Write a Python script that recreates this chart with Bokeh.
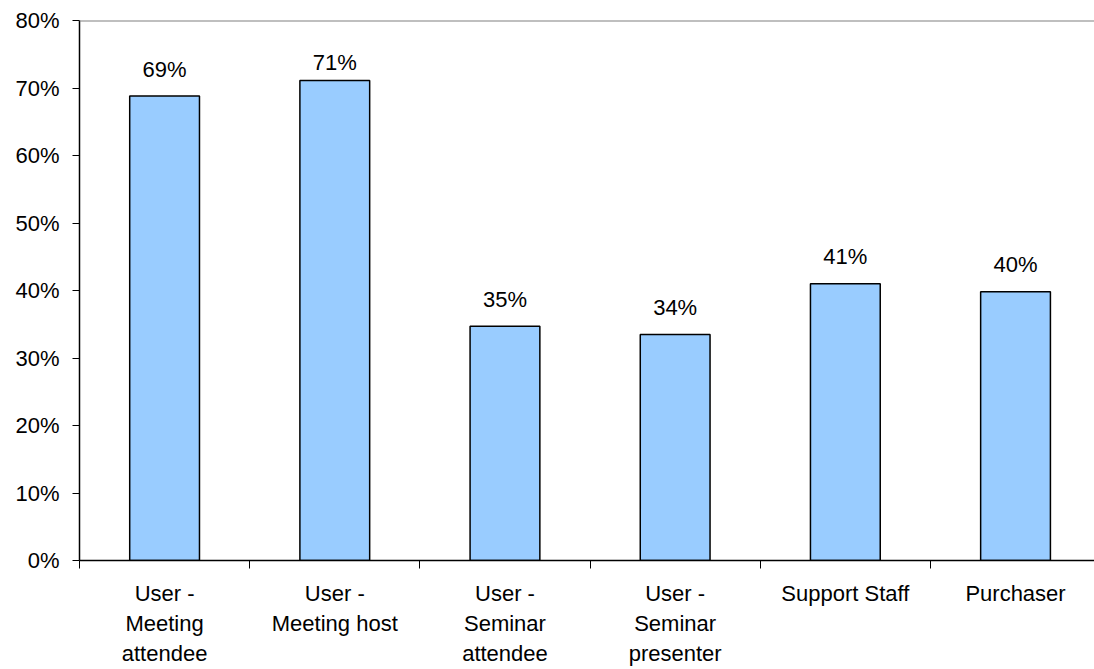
from bokeh.plotting import figure
from bokeh.models import ColumnDataSource, FixedTicker, Range1d, Span
from bokeh.core.properties import value
from bokeh.embed import file_html
from bokeh.resources import INLINE

categories = ["User -\nMeeting\nattendee", "User -\nMeeting host", "User -\nSeminar\nattendee",
              "User -\nSeminar\npresenter", "Support Staff", "Purchaser"]
values = [68.8, 71.1, 34.7, 33.5, 41.0, 39.8]
labels = ["69%", "71%", "35%", "34%", "41%", "40%"]
y_ticks = [0, 10, 20, 30, 40, 50, 60, 70, 80]

FONT = "Liberation Sans"
FS = "22px"
xs = [i + 0.5 for i in range(len(categories))]
label_y = [min(v + 4.0, 73.8) for v in values]

src = ColumnDataSource(dict(x=xs, top=values, ly=label_y, lab=labels))

p = figure(width=1094, height=669, output_backend="svg", toolbar_location=None,
           x_range=Range1d(0, 5.964), y_range=Range1d(0, 80),
           min_border_left=79, min_border_right=0, min_border_top=20, min_border_bottom=109)
p.outline_line_color = None
p.xgrid.visible = False
p.ygrid.visible = False

p.vbar(x="x", top="top", width=0.41, bottom=0, source=src,
       fill_color="#99CCFF", line_color="black", line_width=1.5)
p.text(x="x", y="ly", text="lab", source=src, text_font=value(FONT),
       text_font_size=FS, text_align="center", text_baseline="middle", text_color="black")

p.add_layout(Span(location=80, dimension="width", line_color="#808080", line_width=2))

# y axis
p.yaxis.ticker = FixedTicker(ticks=y_ticks)
p.yaxis.major_label_overrides = {t: f"{t}%" for t in y_ticks}
p.yaxis.major_label_text_font = FONT
p.yaxis.major_label_text_font_size = FS
p.yaxis.major_label_text_color = "black"
p.yaxis.axis_line_color = "black"
p.yaxis.axis_line_width = 1.5
p.yaxis.major_tick_out = 7
p.yaxis.major_tick_in = 0
p.yaxis.major_tick_line_color = "black"
p.yaxis.minor_tick_line_color = None
p.yaxis.major_label_standoff = 13

# x axis
p.xaxis.ticker = FixedTicker(ticks=xs, minor_ticks=list(range(len(categories) + 1)))
p.xaxis.major_label_overrides = {x: c for x, c in zip(xs, categories)}
p.xaxis.major_label_text_font = FONT
p.xaxis.major_label_text_font_size = FS
p.xaxis.major_label_text_color = "black"
p.xaxis.major_label_text_align = "center"
p.xaxis.major_label_text_line_height = 1.2
p.xaxis.axis_line_color = "black"
p.xaxis.axis_line_width = 1.5
p.xaxis.major_tick_line_color = None
p.xaxis.major_tick_out = 0
p.xaxis.major_tick_in = 0
p.xaxis.minor_tick_line_color = "black"
p.xaxis.minor_tick_out = 8
p.xaxis.minor_tick_in = 0
p.xaxis.major_label_standoff = 12

open("out.html", "w").write(file_html(p, INLINE))
